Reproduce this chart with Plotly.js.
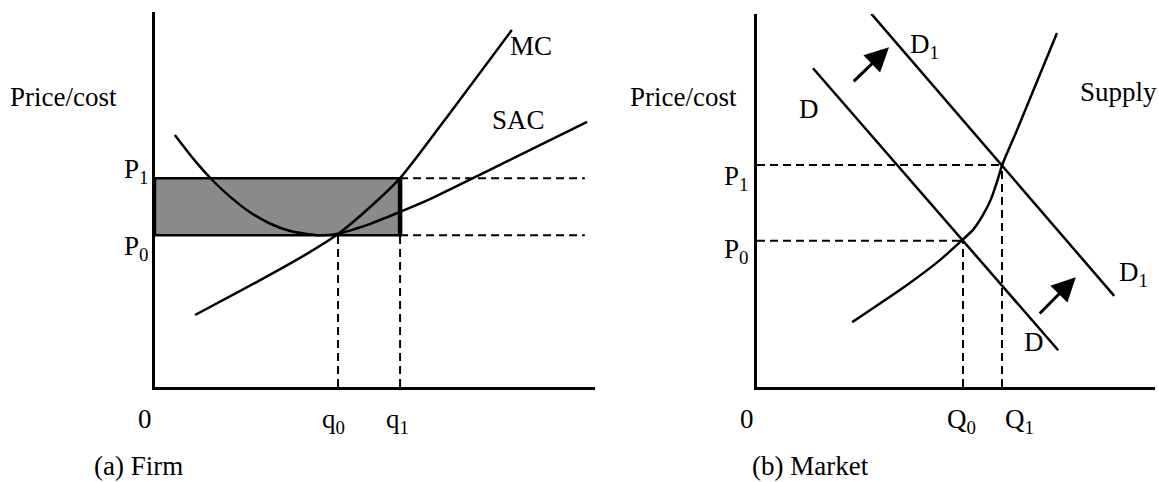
<!DOCTYPE html>
<html><head><meta charset="utf-8">
<script src="https://cdn.plot.ly/plotly-3.0.1.min.js"></script>
<style>html,body{margin:0;padding:0;background:#fff}#chart{width:1159px;height:482px}</style>
</head><body><div id="chart"></div>
<script>
// ---- Panel (a) Firm: quantity vs price/cost ----
const mcQ  = [0.91, 2.39, 3.45, 4.16, 4.89, 5.57, 6.82, 8.11];
const mcP  = [1.92, 2.85, 3.55, 4.08, 4.80, 5.57, 7.49, 9.52];
const sacQ = [0.45, 0.91, 1.30, 1.71, 2.16, 2.61, 3.07, 3.70, 4.16, 4.89, 5.57, 6.25, 7.61, 9.82];
const sacP = [6.72, 6.03, 5.52, 5.07, 4.66, 4.36, 4.16, 4.05, 4.09, 4.35, 4.67, 5.01, 5.79, 7.07];
const firmQLevels = [4.16, 5.57];   // q0, q1
const firmPLevels = [4.05, 5.57];   // P0, P1
const firmQLabels = ['q<sub>0</sub>', 'q<sub>1</sub>'];
const firmPLabels = ['P<sub>0</sub>', 'P<sub>1</sub>'];

// ---- Panel (b) Market ----
const demandQ  = [1.40, 7.53];
const demandP  = [8.50, 0.98];
const demand1Q = [2.86, 8.93];
const demand1P = [9.95, 2.43];
const supplyQ  = [2.38, 3.75, 4.58, 5.13, 5.40, 5.65, 5.85, 6.00, 6.13, 6.50, 7.50];
const supplyP  = [1.73, 2.72, 3.39, 3.92, 4.19, 4.59, 5.01, 5.47, 5.92, 6.85, 9.44];
const marketQLevels = [5.15, 6.125]; // Q0, Q1
const marketPLevels = [3.90, 5.92];  // P0, P1
const marketQLabels = ['Q<sub>0</sub>', 'Q<sub>1</sub>'];
const marketPLabels = ['P<sub>0</sub>', 'P<sub>1</sub>'];
// demand-shift arrows: [tailQ, tailP, headQ, headP]
const shiftArrowUpper = [2.38, 8.11, 3.30, 9.06];
const shiftArrowLower = [7.03, 1.92, 7.97, 2.93];

const W = 1159, H = 482;
const FONT = 'Liberation Serif, Times New Roman, serif';
const ink = '#000';

function curve(x, y, xa, ya) {
  return {x, y, xaxis: xa, yaxis: ya, type: 'scatter', mode: 'lines',
    line: {color: ink, width: 2.5, shape: 'spline', smoothing: 0.7},
    hoverinfo: 'skip', showlegend: false};
}
function lab(text, px, py, xanchor) {
  return {text, xref: 'paper', yref: 'paper', x: px / W, y: 1 - py / H,
    xanchor: xanchor || 'left', yanchor: 'middle', showarrow: false,
    font: {family: FONT, size: 27, color: ink}};
}
function dash(xr, yr, x0, y0, x1, y1) {
  return {type: 'line', xref: xr, yref: yr, x0, y0, x1, y1,
    line: {color: ink, width: 2, dash: '8px,5px'}};
}

const traces = [
  curve(mcQ, mcP, 'x', 'y'),
  curve(sacQ, sacP, 'x', 'y'),
  curve(demandQ, demandP, 'x2', 'y2'),
  curve(demand1Q, demand1P, 'x2', 'y2'),
  curve(supplyQ, supplyP, 'x2', 'y2')
];

const [q0, q1] = firmQLevels, [fP0, fP1] = firmPLevels;
const [Q0, Q1] = marketQLevels, [mP0, mP1] = marketPLevels;
const dashEnd = 9.77;

const shapes = [
  {type: 'rect', xref: 'x', yref: 'y', x0: 0, x1: q1, y0: fP0, y1: fP1,
   fillcolor: '#8a8a8a', line: {color: ink, width: 2.5}, layer: 'below'},
  {type: 'line', xref: 'x', yref: 'y', x0: q1, x1: q1, y0: fP0, y1: fP1,
   line: {color: ink, width: 4.5}},
  dash('x', 'y', q1, fP1, dashEnd, fP1),
  dash('x', 'y', q1, fP0, dashEnd, fP0),
  dash('x', 'y', q0, 0, q0, fP0),
  dash('x', 'y', q1, 0, q1, fP0),
  dash('x2', 'y2', 0, mP1, Q1, mP1),
  dash('x2', 'y2', 0, mP0, Q0, mP0),
  dash('x2', 'y2', Q0, 0, Q0, mP0),
  dash('x2', 'y2', Q1, 0, Q1, mP1)
];

function arrow(a) {
  return {xref: 'x2', yref: 'y2', axref: 'x2', ayref: 'y2',
    ax: a[0], ay: a[1], x: a[2], y: a[3], text: '', showarrow: true,
    arrowhead: 2, arrowsize: 1.6, arrowwidth: 3, arrowcolor: ink, standoff: 0};
}

const annotations = [
  // panel (a)
  lab('Price/cost', 8, 97),
  lab(firmPLabels[1], 122, 171),
  lab(firmPLabels[0], 122, 248),
  lab('0', 145, 419, 'center'),
  lab(firmQLabels[0], 320, 421),
  lab(firmQLabels[1], 384, 421),
  lab('(a) Firm', 92, 466),
  lab('MC', 508, 46),
  lab('SAC', 490, 120),
  // panel (b)
  lab('Price/cost', 628, 97),
  lab('D<sub>1</sub>', 908, 46),
  lab('D', 797, 109),
  lab('Supply', 1078, 92),
  lab(marketPLabels[1], 722, 178),
  lab(marketPLabels[0], 722, 251),
  lab('D', 1022, 342),
  lab('D<sub>1</sub>', 1117, 274),
  lab('0', 747, 419, 'center'),
  lab(marketQLabels[0], 945, 421),
  lab(marketQLabels[1], 1003, 421),
  lab('(b) Market', 750, 466),
  arrow(shiftArrowUpper),
  arrow(shiftArrowLower)
];

const axisBase = {showline: true, linecolor: ink, linewidth: 3, showgrid: false,
  zeroline: false, showticklabels: false, ticks: '', fixedrange: true};

const layout = {
  width: W, height: H,
  margin: {l: 0, r: 0, t: 0, b: 0, pad: 0},
  paper_bgcolor: '#fff', plot_bgcolor: 'rgba(0,0,0,0)',
  showlegend: false,
  xaxis:  Object.assign({}, axisBase, {domain: [155 / W, 595 / W], range: [0, 10], anchor: 'y'}),
  yaxis:  Object.assign({}, axisBase, {domain: [95 / H, 470 / H], range: [0, 10], anchor: 'x'}),
  xaxis2: Object.assign({}, axisBase, {domain: [757 / W, 1155 / W], range: [0, 9.95], anchor: 'y2'}),
  yaxis2: Object.assign({}, axisBase, {domain: [95 / H, 468 / H], range: [0, 9.947], anchor: 'x2'}),
  shapes, annotations
};

Plotly.newPlot('chart', traces, layout, {displayModeBar: false});
</script>
</body></html>
